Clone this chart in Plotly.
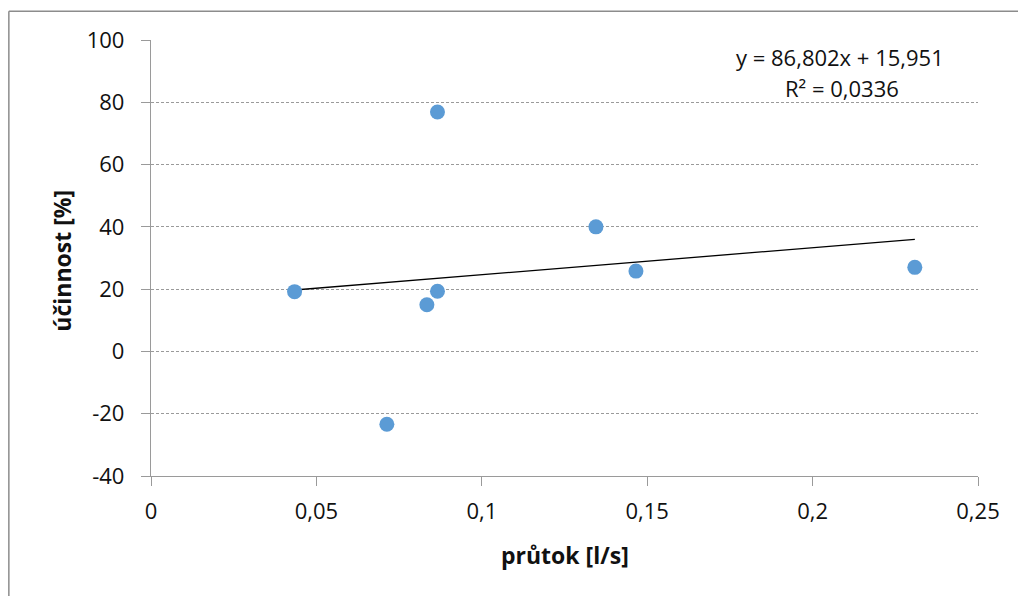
import plotly.graph_objects as go

# Data
prutok = [0.0434, 0.0713, 0.0834, 0.0866, 0.0866, 0.1345, 0.1466, 0.2309]
ucinnost = [19.2, -23.4, 15.0, 19.3, 76.9, 40.0, 25.8, 27.0]

# Trendline parameters (as printed on the chart)
slope = 86.802
intercept = 15.951
r2 = 0.0336

x_ticks = [0, 0.05, 0.1, 0.15, 0.2, 0.25]
x_labels = ["0", "0,05", "0,1", "0,15", "0,2", "0,25"]
y_ticks = [-40, -20, 0, 20, 40, 60, 80, 100]
y_labels = ["-40", "-20", "0", "20", "40", "60", "80", "100"]

x_title = "průtok [l/s]"
y_title = "účinnost [%]"

font = "Open Sans, Noto Sans, sans-serif"

xmin, xmax = min(prutok), max(prutok)
trend_x = [xmin, xmax]
trend_y = [slope * v + intercept for v in trend_x]

# page offset (body margin) of 8 px
OFF = 8
PL, PR, PT, PB = 150.7, 978, 39.7, 475.7  # plot area in page pixels


def px(xp):
    return (xp - PL) / (PR - PL)


def py(yp):
    return (PB - yp) / (PB - PT)


fig = go.Figure()
fig.add_trace(go.Scatter(
    x=trend_x, y=trend_y, mode="lines",
    line=dict(color="black", width=1.3), showlegend=False, hoverinfo="skip"))
fig.add_trace(go.Scatter(
    x=prutok, y=ucinnost, mode="markers",
    marker=dict(color="#5B9BD5", size=15, line=dict(width=0)),
    showlegend=False))

fig.update_layout(
    width=1026 - OFF, height=596 - OFF,
    margin=dict(l=PL - OFF, r=1026 - PR, t=PT - OFF, b=596 - PB, autoexpand=False),
    paper_bgcolor="white", plot_bgcolor="white",
    separators=", ",
    font=dict(family=font, size=22, color="#111"),
    xaxis=dict(
        range=[0, 0.25], tickvals=x_ticks, ticktext=x_labels,
        showgrid=False, zeroline=False,
        showline=True, linecolor="#9a9a9a", linewidth=1.3,
        ticks="outside", ticklen=9, tickcolor="#9a9a9a", tickwidth=1.3,
        ticklabelstandoff=6,
    ),
    yaxis=dict(
        range=[-40, 100], tickvals=y_ticks, ticktext=y_labels,
        showgrid=True, gridcolor="#9a9a9a", gridwidth=1, griddash="3px,2px",
        zeroline=False,
        showline=True, linecolor="#9a9a9a", linewidth=1.3,
        ticks="outside", ticklen=9, tickcolor="#9a9a9a", tickwidth=1.3,
        ticklabelstandoff=12,
    ),
    annotations=[
        dict(text=f"y = {str(slope).replace('.', ',')}x + {str(intercept).replace('.', ',')}",
             xref="paper", yref="paper", x=px(840), y=py(57),
             showarrow=False, xanchor="center", yanchor="middle",
             font=dict(family=font, size=22, color="#111")),
        dict(text=f"R² = {str(r2).replace('.', ',')}",
             xref="paper", yref="paper", x=px(842), y=py(88),
             showarrow=False, xanchor="center", yanchor="middle",
             font=dict(family=font, size=22, color="#111")),
        dict(text=f"<b>{x_title}</b>",
             xref="paper", yref="paper", x=px(565), y=py(555),
             showarrow=False, xanchor="center", yanchor="middle",
             font=dict(family=font, size=23, color="#111")),
        dict(text=f"<b>{y_title}</b>", textangle=-90,
             xref="paper", yref="paper", x=px(62), y=py(260),
             showarrow=False, xanchor="center", yanchor="middle",
             font=dict(family=font, size=23, color="#111")),
    ],
    shapes=[
        dict(type="line", xref="paper", yref="paper",
             x0=px(8.5), x1=px(1040), y0=py(11), y1=py(11),
             line=dict(color="#8c8c8c", width=1.5)),
        dict(type="line", xref="paper", yref="paper",
             x0=px(8.5), x1=px(8.5), y0=py(11), y1=py(620),
             line=dict(color="#8c8c8c", width=1.5)),
    ],
)

fig.write_html("out.html")
